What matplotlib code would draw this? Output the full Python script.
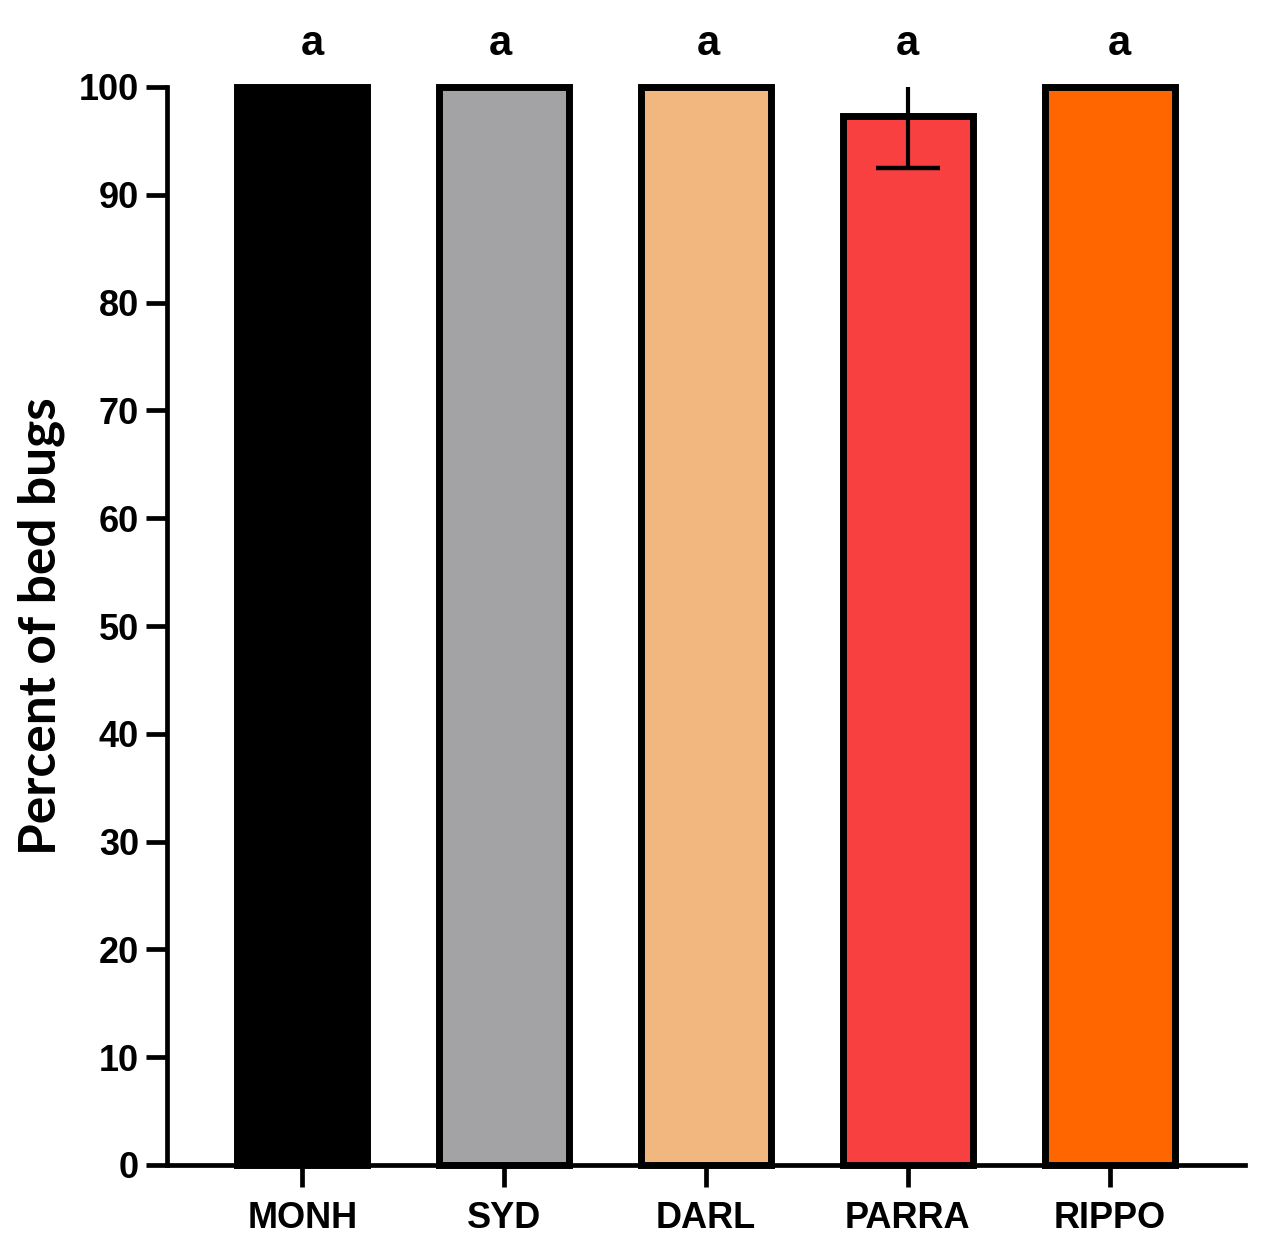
import matplotlib
matplotlib.use("Agg")
import matplotlib.pyplot as plt

categories = ["MONH", "SYD", "DARL", "PARRA", "RIPPO"]
values = [100, 100, 100, 97.3, 100]
err_low = [0, 0, 0, 4.8, 0]
err_high = [0, 0, 0, 2.7, 0]
letters = ["a", "a", "a", "a", "a"]
colors = ["#000000", "#a3a3a5", "#f2b77e", "#f94040", "#ff6600"]
letter_dx = [0.05, -0.02, 0.01, 0.0, 0.05]

W, H = 1269, 1256
fig = plt.figure(figsize=(W / 100, H / 100), dpi=100)
ax = fig.add_axes([167 / W, 1 - 1165 / H, (1245 - 167) / W, (1165 - 87) / H])

x = list(range(len(categories)))
ax.bar(x, values, width=0.645, color=colors, edgecolor="black", linewidth=5, zorder=2, clip_on=False)

for i in x:
    if err_low[i] > 0:
        ax.errorbar([i], [values[i]], yerr=[[err_low[i]], [0]], fmt="none", ecolor="black",
                    elinewidth=3, capsize=23, capthick=3.2, zorder=3)
    if err_high[i] > 0:
        ax.errorbar([i], [values[i]], yerr=[[0], [err_high[i]]], fmt="none", ecolor="black",
                    elinewidth=3, capsize=0, zorder=3, clip_on=False)

for i, t in enumerate(letters):
    ax.text(i + letter_dx[i], 104.0, t, ha="center", va="center", fontsize=30, fontweight="bold",
            family="Liberation Sans", clip_on=False)

ax.set_xlim(-0.67, 4.67)
ax.set_ylim(0, 100)
ax.set_yticks(range(0, 101, 10))
ax.set_xticks(x)
ax.set_xticklabels(categories)
for lab in ax.get_xticklabels() + ax.get_yticklabels():
    lab.set_fontsize(26)
    lab.set_fontweight("bold")
    lab.set_family("Liberation Sans")

for s in ["top", "right"]:
    ax.spines[s].set_visible(False)
for s in ["left", "bottom"]:
    ax.spines[s].set_linewidth(3.4)
ax.tick_params(axis="y", length=15, width=3.4, pad=5)
ax.tick_params(axis="x", length=16, width=3.4, pad=10)

ax.set_ylabel("Percent of bed bugs", fontsize=37, family="Lato", fontweight="bold", labelpad=10)

fig.savefig("out.png", dpi=100)
